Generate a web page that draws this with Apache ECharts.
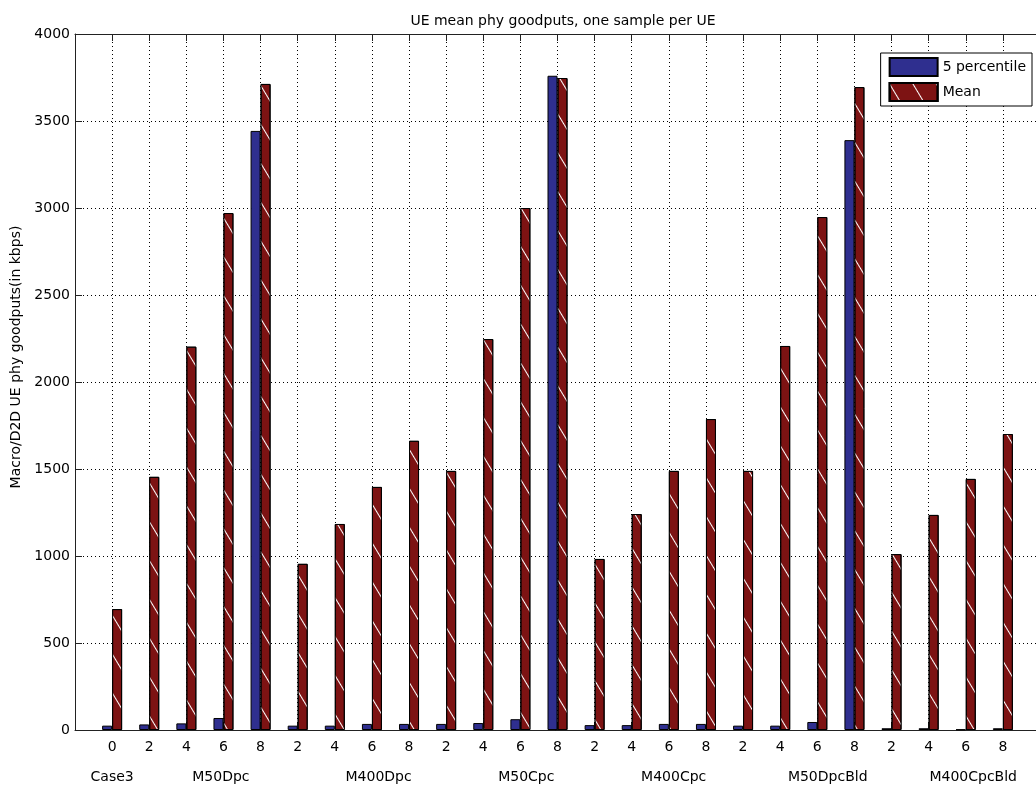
<!DOCTYPE html>
<html>
<head>
<meta charset="utf-8">
<script src="https://cdn.jsdelivr.net/npm/echarts@6/dist/echarts.min.js"></script>
<style>
html,body{margin:0;padding:0;background:#fff;}
#chart{width:1036px;height:787px;}
</style>
</head>
<body>
<div id="chart"></div>
<script>
// x tick labels (positions 1..25)
const tickLabels = ['0','2','4','6','8','2','4','6','8','2','4','6','8','2','4','6','8','2','4','6','8','2','4','6','8'];
// group labels and their positions on the x scale
const groupLabels = ['Case3','M50Dpc','M400Dpc','M50Cpc','M400Cpc','M50DpcBld','M400CpcBld'];
const groupPos = [1.0, 3.93, 8.18, 12.16, 16.13, 20.28, 24.2];
// series values
const p5 = [25, 32, 38, 69, 3443, 25, 25, 35, 35, 35, 40, 62, 3760, 28, 28, 35, 35, 25, 25, 46, 3390, 10, 10, 3, 10];
const meanVals = [695, 1455, 2203, 2971, 3713, 955, 1184, 1397, 1662, 1489, 2247, 3000, 3747, 983, 1241, 1489, 1787, 1489, 2207, 2948, 3695, 1011, 1236, 1443, 1701];
const yTicks = [0, 500, 1000, 1500, 2000, 2500, 3000, 3500, 4000];

const FONT = 'DejaVu Sans';
const chart = echarts.init(document.getElementById('chart'), null, {renderer: 'canvas'});

const dotted = {color: '#000', width: 1, type: [1, 3]};

const option = {
  backgroundColor: '#fff',
  animation: false,
  title: {
    text: 'UE mean phy goodputs, one sample per UE',
    left: 558, top: 9, textAlign: 'center',
    textStyle: {fontFamily: FONT, fontSize: 14, fontWeight: 'normal', color: '#000'}
  },
  legend: {
    orient: 'vertical',
    right: 4, top: 53,
    itemWidth: 48, itemHeight: 18, itemGap: 5,
    padding: [4, 6, 4, 8],
    backgroundColor: '#fff',
    borderColor: '#000', borderWidth: 1, borderRadius: 0,
    textStyle: {fontFamily: FONT, fontSize: 14, color: '#000'},
    icon: 'rect',
    data: ['5 percentile', 'Mean']
  },
  grid: {left: 75, right: -4, top: 34, bottom: 57, containLabel: false, outerBoundsMode: 'none'},
  xAxis: [
    {
      type: 'value', min: 0, max: 26, interval: 1, position: 'bottom',
      axisLine: {show: true, onZero: false, lineStyle: {color: '#222', width: 1}},
      axisTick: {show: true, inside: true, length: 7, lineStyle: {color: '#222'}},
      axisLabel: {
        fontFamily: FONT, fontSize: 14, color: '#000', margin: 10,
        formatter: v => (v >= 1 && v <= tickLabels.length) ? tickLabels[v - 1] : ''
      },
      splitLine: {show: true, lineStyle: dotted}
    },
    {
      type: 'value', min: 0, max: 26, interval: 1, position: 'top',
      axisLine: {show: true, onZero: false, lineStyle: {color: '#222', width: 1}},
      axisTick: {show: true, inside: true, length: 7, lineStyle: {color: '#222'}},
      axisLabel: {show: false},
      splitLine: {show: false}
    },
    {
      type: 'value', min: 0, max: 26, position: 'bottom', offset: 30,
      axisLine: {show: false}, axisTick: {show: false}, splitLine: {show: false},
      axisLabel: {
        fontFamily: FONT, fontSize: 14, color: '#000', margin: 10,
        customValues: groupPos,
        formatter: v => { const i = groupPos.indexOf(v); return i >= 0 ? groupLabels[i] : ''; }
      }
    }
  ],
  yAxis: {
    type: 'value', min: 0, max: 4000, interval: 500,
    name: 'Macro/D2D UE phy goodputs(in kbps)',
    nameLocation: 'middle', nameGap: 52,
    nameTextStyle: {fontFamily: FONT, fontSize: 14, color: '#000', padding: [0, 0, 0, 50]},
    axisLine: {show: true, lineStyle: {color: '#222', width: 1}},
    axisTick: {show: true, inside: true, length: 7, lineStyle: {color: '#222'}},
    axisLabel: {fontFamily: FONT, fontSize: 14, color: '#000', margin: 5,
      customValues: yTicks, formatter: v => String(v)},
    splitLine: {show: true, lineStyle: dotted}
  },
  series: [
    {
      name: '5 percentile', type: 'bar', xAxisIndex: 0,
      barWidth: 10, barGap: '0%',
      itemStyle: {color: '#2f2f8f', borderColor: '#000', borderWidth: 1},
      data: p5.map((v, i) => [i + 1, v])
    },
    {
      name: 'Mean', type: 'bar', xAxisIndex: 0,
      barWidth: 10, barGap: '0%',
      itemStyle: {
        color: '#7d1313', borderColor: '#000', borderWidth: 1,
        decal: {
          symbol: 'rect', symbolSize: 1, color: '#fff',
          dashArrayX: [1, 0], dashArrayY: [1, 19],
          rotation: 1.03
        }
      },
      data: meanVals.map((v, i) => [i + 1, v])
    }
  ]
};
chart.setOption(option);
</script>
</body>
</html>
